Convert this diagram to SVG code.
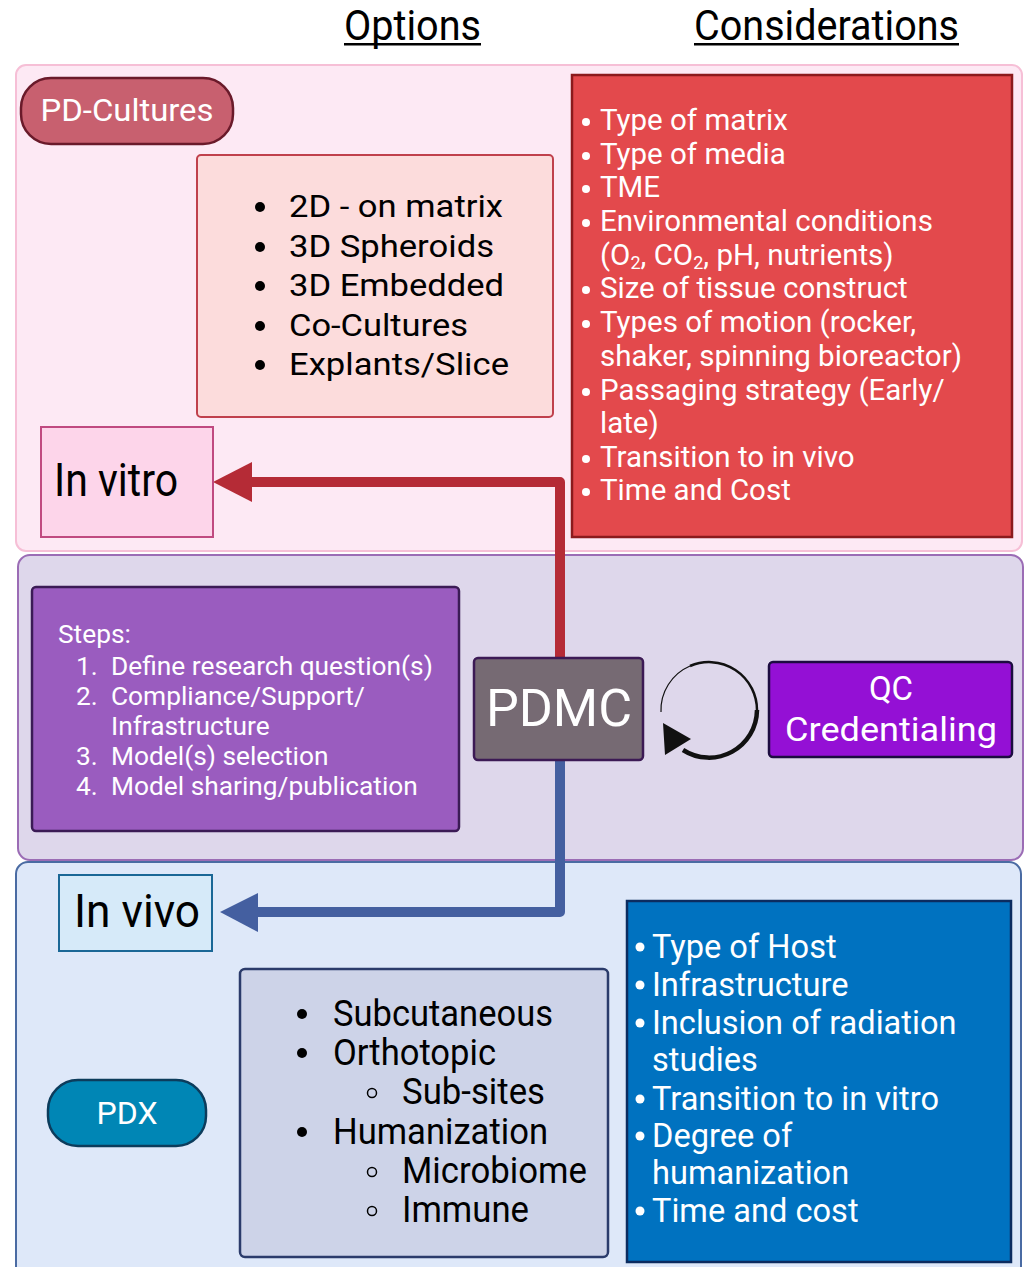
<svg xmlns="http://www.w3.org/2000/svg" width="1024" height="1267" viewBox="0 0 1024 1267">
<style>
text{font-family:Roboto,"Liberation Sans",sans-serif}
.w{fill:#fff}
.k{fill:#000}
.red{font-size:29.5px}
.blu{font-size:32.6px}
.stp{font-size:26.3px}
.opt{font-size:31px}
.opt2{font-size:37px}
</style>
<rect width="1024" height="1267" fill="#fff"/>

<g id="header">
<text x="344" y="40" font-size="42" textLength="137" lengthAdjust="spacingAndGlyphs" class="k">Options</text>
<rect x="344" y="43" width="137" height="2.5" fill="#000"/>
<text x="694" y="40" font-size="42" textLength="265" lengthAdjust="spacingAndGlyphs" class="k">Considerations</text>
<rect x="694" y="43" width="265" height="2.5" fill="#000"/>
</g>

<g id="section-invitro">
<rect x="16" y="65" width="1006" height="486" rx="10" fill="#fde9f4" stroke="#f6bfd6" stroke-width="2"/>
</g>
<g id="section-pdmc">
<rect x="18" y="555" width="1005" height="305" rx="12" fill="#ded7eb" stroke="#9b6cb5" stroke-width="2"/>
</g>
<g id="section-invivo">
<rect x="16" y="862" width="1005" height="420" rx="12" fill="#dee8f9" stroke="#4a6ba3" stroke-width="2"/>
</g>

<g id="connectors">
<path d="M560,660 V482 H250" fill="none" stroke="#b52b36" stroke-width="10" stroke-linejoin="round"/>
<polygon points="213,482 252,462 252,502" fill="#b52b36"/>
<path d="M560,760 V912 H256" fill="none" stroke="#445fa0" stroke-width="10" stroke-linejoin="round"/>
<polygon points="220,912 258,893 258,932" fill="#445fa0"/>
<path d="M661,712 A48,48 0 0 1 690,666" fill="none" stroke="#111" stroke-width="1.2"/>
<path d="M690,666 A48,48 0 0 1 757,710" fill="none" stroke="#111" stroke-width="2.5"/>
<path d="M757,710 A48,48 0 0 1 683,750" fill="none" stroke="#111" stroke-width="4.5"/>
<polygon points="663,723 665,755 691,739" fill="#111"/>
</g>

<g id="pd-cultures">
<rect x="21" y="78" width="212" height="66" rx="30" fill="#c8606f" stroke="#6a1a2a" stroke-width="2.5"/>
<text x="127" y="121" font-size="32" text-anchor="middle" textLength="173" lengthAdjust="spacingAndGlyphs" class="w">PD-Cultures</text>
</g>

<g id="options-invitro">
<rect x="197" y="155" width="356" height="262" rx="4" fill="#fcdcdc" stroke="#c0404c" stroke-width="2"/>
<g class="k">
<circle cx="260" cy="207" r="5"/><circle cx="260" cy="247" r="5"/><circle cx="260" cy="286" r="5"/><circle cx="260" cy="326" r="5"/><circle cx="260" cy="365" r="5"/>
</g>
<text x="289" y="217" class="opt k" textLength="214" lengthAdjust="spacingAndGlyphs">2D - on matrix</text>
<text x="289" y="257" class="opt k" textLength="205" lengthAdjust="spacingAndGlyphs">3D Spheroids</text>
<text x="289" y="296" class="opt k" textLength="215" lengthAdjust="spacingAndGlyphs">3D Embedded</text>
<text x="289" y="336" class="opt k" textLength="179" lengthAdjust="spacingAndGlyphs">Co-Cultures</text>
<text x="289" y="375" class="opt k" textLength="220" lengthAdjust="spacingAndGlyphs">Explants/Slice</text>
</g>

<g id="considerations-invitro">
<rect x="572" y="75" width="440" height="462" fill="#e3494c" stroke="#8b1a1c" stroke-width="2.5"/>
<g class="w">
<circle cx="586" cy="122" r="4"/><circle cx="586" cy="156" r="4"/><circle cx="586" cy="189" r="4"/><circle cx="586" cy="223" r="4"/><circle cx="586" cy="290" r="4"/><circle cx="586" cy="324" r="4"/><circle cx="586" cy="392" r="4"/><circle cx="586" cy="459" r="4"/><circle cx="586" cy="492" r="4"/>
</g>
<text x="600" y="130" class="red w">Type of matrix</text>
<text x="600" y="164" class="red w">Type of media</text>
<text x="600" y="197" class="red w">TME</text>
<text x="600" y="231" class="red w">Environmental conditions</text>
<text x="600" y="265" class="red w">(O<tspan font-size="18" dy="4">2</tspan><tspan dy="-4">, CO</tspan><tspan font-size="18" dy="4">2</tspan><tspan dy="-4">, pH, nutrients)</tspan></text>
<text x="600" y="298" class="red w">Size of tissue construct</text>
<text x="600" y="332" class="red w">Types of motion (rocker,</text>
<text x="600" y="366" class="red w">shaker, spinning bioreactor)</text>
<text x="600" y="400" class="red w">Passaging strategy (Early/</text>
<text x="600" y="433" class="red w">late)</text>
<text x="600" y="467" class="red w">Transition to in vivo</text>
<text x="600" y="500" class="red w">Time and Cost</text>
</g>

<g id="in-vitro">
<rect x="41" y="427" width="172" height="110" fill="#fdd5ea" stroke="#c04a80" stroke-width="2"/>
<text x="54" y="496" font-size="46" textLength="124" lengthAdjust="spacingAndGlyphs" class="k">In vitro</text>
</g>

<g id="steps">
<rect x="32" y="587" width="427" height="244" rx="4" fill="#9a5cbf" stroke="#3b1b55" stroke-width="2.5"/>
<text x="58" y="643" class="stp w">Steps:</text>
<text x="76" y="675" class="stp w">1.</text><text x="111" y="675" class="stp w">Define research question(s)</text>
<text x="76" y="705" class="stp w">2.</text><text x="111" y="705" class="stp w">Compliance/Support/</text>
<text x="111" y="735" class="stp w">Infrastructure</text>
<text x="76" y="765" class="stp w">3.</text><text x="111" y="765" class="stp w">Model(s) selection</text>
<text x="76" y="795" class="stp w">4.</text><text x="111" y="795" class="stp w">Model sharing/publication</text>
</g>

<g id="pdmc">
<rect x="474" y="658" width="169" height="102" rx="4" fill="#766a73" stroke="#3c1a55" stroke-width="2.5"/>
<text x="559" y="726" font-size="52" text-anchor="middle" class="w">PDMC</text>
</g>

<g id="qc">
<rect x="769" y="662" width="243" height="95" rx="4" fill="#9410d5" stroke="#1c0c40" stroke-width="2.5"/>
<text x="891" y="700" font-size="33" text-anchor="middle" class="w">QC</text>
<text x="891" y="741" font-size="34" text-anchor="middle" textLength="212" lengthAdjust="spacingAndGlyphs" class="w">Credentialing</text>
</g>

<g id="in-vivo">
<rect x="59" y="875" width="153" height="76" fill="#d6eaf9" stroke="#1a6796" stroke-width="2"/>
<text x="74" y="927" font-size="47" textLength="126" lengthAdjust="spacingAndGlyphs" class="k">In vivo</text>
</g>

<g id="pdx">
<rect x="48" y="1080" width="158" height="66" rx="30" fill="#0086b5" stroke="#0c3c5c" stroke-width="2.5"/>
<text x="127" y="1124" font-size="31" text-anchor="middle" textLength="61" lengthAdjust="spacingAndGlyphs" class="w">PDX</text>
</g>

<g id="options-invivo">
<rect x="240" y="969" width="368" height="288" rx="5" fill="#cdd3e8" stroke="#2b3b6b" stroke-width="2.5"/>
<g class="k">
<circle cx="302" cy="1014" r="5"/><circle cx="302" cy="1053" r="5"/><circle cx="302" cy="1132" r="5"/>
</g>
<g fill="none" stroke="#000" stroke-width="1.5">
<circle cx="372" cy="1093" r="4.5"/><circle cx="372" cy="1172" r="4.5"/><circle cx="372" cy="1211" r="4.5"/>
</g>
<text x="333" y="1026" class="opt2 k" textLength="220" lengthAdjust="spacingAndGlyphs">Subcutaneous</text>
<text x="333" y="1065" class="opt2 k" textLength="163" lengthAdjust="spacingAndGlyphs">Orthotopic</text>
<text x="402" y="1104" class="opt2 k" textLength="143" lengthAdjust="spacingAndGlyphs">Sub-sites</text>
<text x="333" y="1144" class="opt2 k" textLength="215" lengthAdjust="spacingAndGlyphs">Humanization</text>
<text x="402" y="1183" class="opt2 k" textLength="185" lengthAdjust="spacingAndGlyphs">Microbiome</text>
<text x="402" y="1222" class="opt2 k" textLength="127" lengthAdjust="spacingAndGlyphs">Immune</text>
</g>

<g id="considerations-invivo">
<rect x="627" y="901" width="384" height="361" fill="#0072c0" stroke="#0c2c60" stroke-width="2.5"/>
<g class="w">
<circle cx="640" cy="947" r="4.5"/><circle cx="640" cy="985" r="4.5"/><circle cx="640" cy="1023" r="4.5"/><circle cx="640" cy="1099" r="4.5"/><circle cx="640" cy="1136" r="4.5"/><circle cx="640" cy="1211" r="4.5"/>
</g>
<text x="652" y="958" class="blu w">Type of Host</text>
<text x="652" y="996" class="blu w">Infrastructure</text>
<text x="652" y="1034" class="blu w">Inclusion of radiation</text>
<text x="652" y="1071" class="blu w">studies</text>
<text x="652" y="1110" class="blu w">Transition to in vitro</text>
<text x="652" y="1147" class="blu w">Degree of</text>
<text x="652" y="1184" class="blu w">humanization</text>
<text x="652" y="1222" class="blu w">Time and cost</text>
</g>
</svg>
